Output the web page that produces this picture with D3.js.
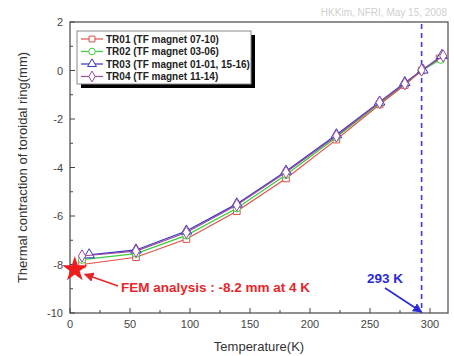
<!DOCTYPE html>
<html>
<head>
<meta charset="utf-8">
<script src="https://cdn.jsdelivr.net/npm/d3@7/dist/d3.min.js"></script>
<style>
  body { margin: 0; background: #fff; }
  svg { display: block; font-family: "Liberation Sans", Arial, sans-serif; }
</style>
</head>
<body>
<svg id="chart" width="454" height="356"></svg>
<script>
// data
var seriesNames = ["TR01 (TF magnet 07-10)", "TR02 (TF magnet 03-06)", "TR03 (TF magnet 01-01, 15-16)", "TR04 (TF magnet 11-14)"];
var tr01T = [10, 55, 97, 139, 180, 222, 258, 279, 293, 308];
var tr01V = [-8.0, -7.7, -6.95, -5.8, -4.45, -2.85, -1.4, -0.6, 0.0, 0.5];
var tr02T = [10, 55, 97, 139, 180, 222, 258, 279, 293, 309];
var tr02V = [-7.8, -7.55, -6.8, -5.68, -4.3, -2.75, -1.35, -0.55, 0.0, 0.45];
var tr03T = [16, 55, 97, 139, 180, 222, 258, 279, 294, 310];
var tr03V = [-7.6, -7.4, -6.62, -5.5, -4.15, -2.65, -1.3, -0.5, 0.02, 0.62];
var tr04T = [10, 55, 97, 139, 180, 222, 258, 279, 293, 311];
var tr04V = [-7.65, -7.45, -6.68, -5.55, -4.2, -2.7, -1.32, -0.55, 0.02, 0.6];
var xTickVals = [0, 50, 100, 150, 200, 250, 300];
var yTickVals = [-10, -8, -6, -4, -2, 0, 2];
var femPoint = [4, -8.2];
var roomTemp = 293;

var colors = ["#e0504a", "#3ccc3c", "#3434c4", "#9a4c9a"];
var symbols = [d3.symbolSquare, d3.symbolCircle, d3.symbolTriangle, d3.symbolDiamond];

var svg = d3.select("#chart");
var margin = {left: 70, top: 22, right: 6, bottom: 43};
var W = 454, H = 356;

var xScale = d3.scaleLinear().domain([0, 315]).range([margin.left, W - margin.right]);
var yScale = d3.scaleLinear().domain([-10, 2]).range([H - margin.bottom, margin.top]);

var series = [
	{T: tr01T, V: tr01V},
	{T: tr02T, V: tr02V},
	{T: tr03T, V: tr03V},
	{T: tr04T, V: tr04V}
];

// watermark
svg.append("text")
	.attr("x", 447).attr("y", 16)
	.attr("text-anchor", "end")
	.style("font-size", "10px").style("fill", "#cfcfcf")
	.text("HKKim, NFRI, May 15, 2008");

// frame
svg.append("rect")
	.attr("x", xScale(0)).attr("y", yScale(2))
	.attr("width", xScale(315) - xScale(0))
	.attr("height", yScale(-10) - yScale(2))
	.style("fill", "none").style("stroke", "#555").style("stroke-width", 1.3);

// ticks (inside)
var ticks = svg.append("g").style("stroke", "#444").style("stroke-width", 1);
d3.range(0, 316, 25).forEach(function (t) {
	var len = t % 50 === 0 ? 5 : 3;
	ticks.append("line")
		.attr("x1", xScale(t)).attr("x2", xScale(t))
		.attr("y1", yScale(-10)).attr("y2", yScale(-10) - len);
});
d3.range(-10, 2.01, 1).forEach(function (v) {
	var len = v % 2 === 0 ? 5 : 3;
	ticks.append("line")
		.attr("x1", xScale(0)).attr("x2", xScale(0) + len)
		.attr("y1", yScale(v)).attr("y2", yScale(v));
});

// tick labels
svg.selectAll(".xlab").data(xTickVals).enter().append("text")
	.attr("class", "xlab")
	.attr("x", function (d) { return xScale(d); })
	.attr("y", yScale(-10) + 15)
	.attr("text-anchor", "middle")
	.style("font-size", "11px").style("fill", "#444")
	.text(function (d) { return d; });

svg.selectAll(".ylab").data(yTickVals).enter().append("text")
	.attr("class", "ylab")
	.attr("x", xScale(0) - 7)
	.attr("y", function (d) { return yScale(d) + 4; })
	.attr("text-anchor", "end")
	.style("font-size", "11px").style("fill", "#444")
	.text(function (d) { return d; });

// axis titles
svg.append("text")
	.attr("x", (xScale(0) + xScale(315)) / 2).attr("y", 351)
	.attr("text-anchor", "middle")
	.style("font-size", "13px").style("fill", "#333")
	.text("Temperature(K)");

svg.append("text")
	.attr("transform", "translate(27," + ((yScale(2) + yScale(-10)) / 2) + ") rotate(-90)")
	.attr("text-anchor", "middle")
	.style("font-size", "13px").style("fill", "#333")
	.text("Thermal contraction of toroidal ring(mm)");

// dashed line at room temperature
svg.append("line")
	.attr("x1", xScale(roomTemp)).attr("x2", xScale(roomTemp))
	.attr("y1", yScale(2) + 2).attr("y2", yScale(-10))
	.style("stroke", "#3a3ae0").style("stroke-width", 1.6)
	.style("stroke-dasharray", "5,4");

// series
var line = d3.line()
	.x(function (d) { return xScale(d[0]); })
	.y(function (d) { return yScale(d[1]); });

series.forEach(function (s, i) {
	var pts = s.T.map(function (t, j) { return [t, s.V[j]]; });
	var g = svg.append("g");
	g.append("path")
		.attr("d", line(pts))
		.style("fill", "none").style("stroke", colors[i]).style("stroke-width", 1.2);
	g.selectAll("path.m").data(pts).enter().append("path")
		.attr("class", "m")
		.attr("transform", function (d) { return "translate(" + xScale(d[0]) + "," + yScale(d[1]) + ")"; })
		.attr("d", d3.symbol().type(symbols[i]).size(i === 2 ? 48 : 44))
		.style("fill", "#fff").style("stroke", colors[i]).style("stroke-width", 1);
});

// FEM star
svg.append("path")
	.attr("transform", "translate(" + xScale(femPoint[0]) + "," + yScale(femPoint[1]) + ")")
	.attr("d", d3.symbol().type(d3.symbolStar).size(200))
	.style("fill", "#ee1c1c");

// arrow marker defs
var defs = svg.append("defs");
function arrowHead(id, col) {
	defs.append("marker")
		.attr("id", id)
		.attr("viewBox", "0 0 10 10")
		.attr("refX", 9).attr("refY", 5)
		.attr("markerWidth", 6).attr("markerHeight", 6)
		.attr("orient", "auto")
		.append("path").attr("d", "M0,0 L10,5 L0,10 z").style("fill", col);
}
arrowHead("arrRed", "#e8262a");
arrowHead("arrBlue", "#2a2ad8");

svg.append("line")
	.attr("x1", 118).attr("y1", 286)
	.attr("x2", xScale(femPoint[0]) + 10).attr("y2", yScale(femPoint[1]) + 5)
	.style("stroke", "#e8262a").style("stroke-width", 1.6)
	.attr("marker-end", "url(#arrRed)");

svg.append("text")
	.attr("x", 121).attr("y", 292)
	.style("font-size", "13.5px").style("font-weight", "bold").style("fill", "#e8262a")
	.text("FEM analysis : -8.2 mm at 4 K");

svg.append("line")
	.attr("x1", 385).attr("y1", 288)
	.attr("x2", xScale(roomTemp)).attr("y2", yScale(-10) - 1)
	.style("stroke", "#2a2ad8").style("stroke-width", 1.6)
	.attr("marker-end", "url(#arrBlue)");

svg.append("text")
	.attr("x", 367).attr("y", 283)
	.style("font-size", "13.5px").style("font-weight", "bold").style("fill", "#2a2ad8")
	.text("293 K");

// legend
var lg = svg.append("g").attr("transform", "translate(77,31)");
lg.append("rect").attr("x", 4).attr("y", 4).attr("width", 174).attr("height", 53).style("fill", "#000");
lg.append("rect").attr("x", 0).attr("y", 0).attr("width", 174).attr("height", 53)
	.style("fill", "#fff").style("stroke", "#888").style("stroke-width", 1);
seriesNames.forEach(function (name, i) {
	var yy = 8 + i * 12.5;
	lg.append("line").attr("x1", 4).attr("x2", 26).attr("y1", yy).attr("y2", yy)
		.style("stroke", colors[i]).style("stroke-width", 1.2);
	lg.append("path").attr("transform", "translate(15," + yy + ")")
		.attr("d", d3.symbol().type(symbols[i]).size(34))
		.style("fill", "#fff").style("stroke", colors[i]);
	lg.append("text").attr("x", 29).attr("y", yy + 3.5)
		.style("font-size", "10px").style("font-weight", "bold").style("fill", "#222")
		.text(name);
});
</script>
</body>
</html>
